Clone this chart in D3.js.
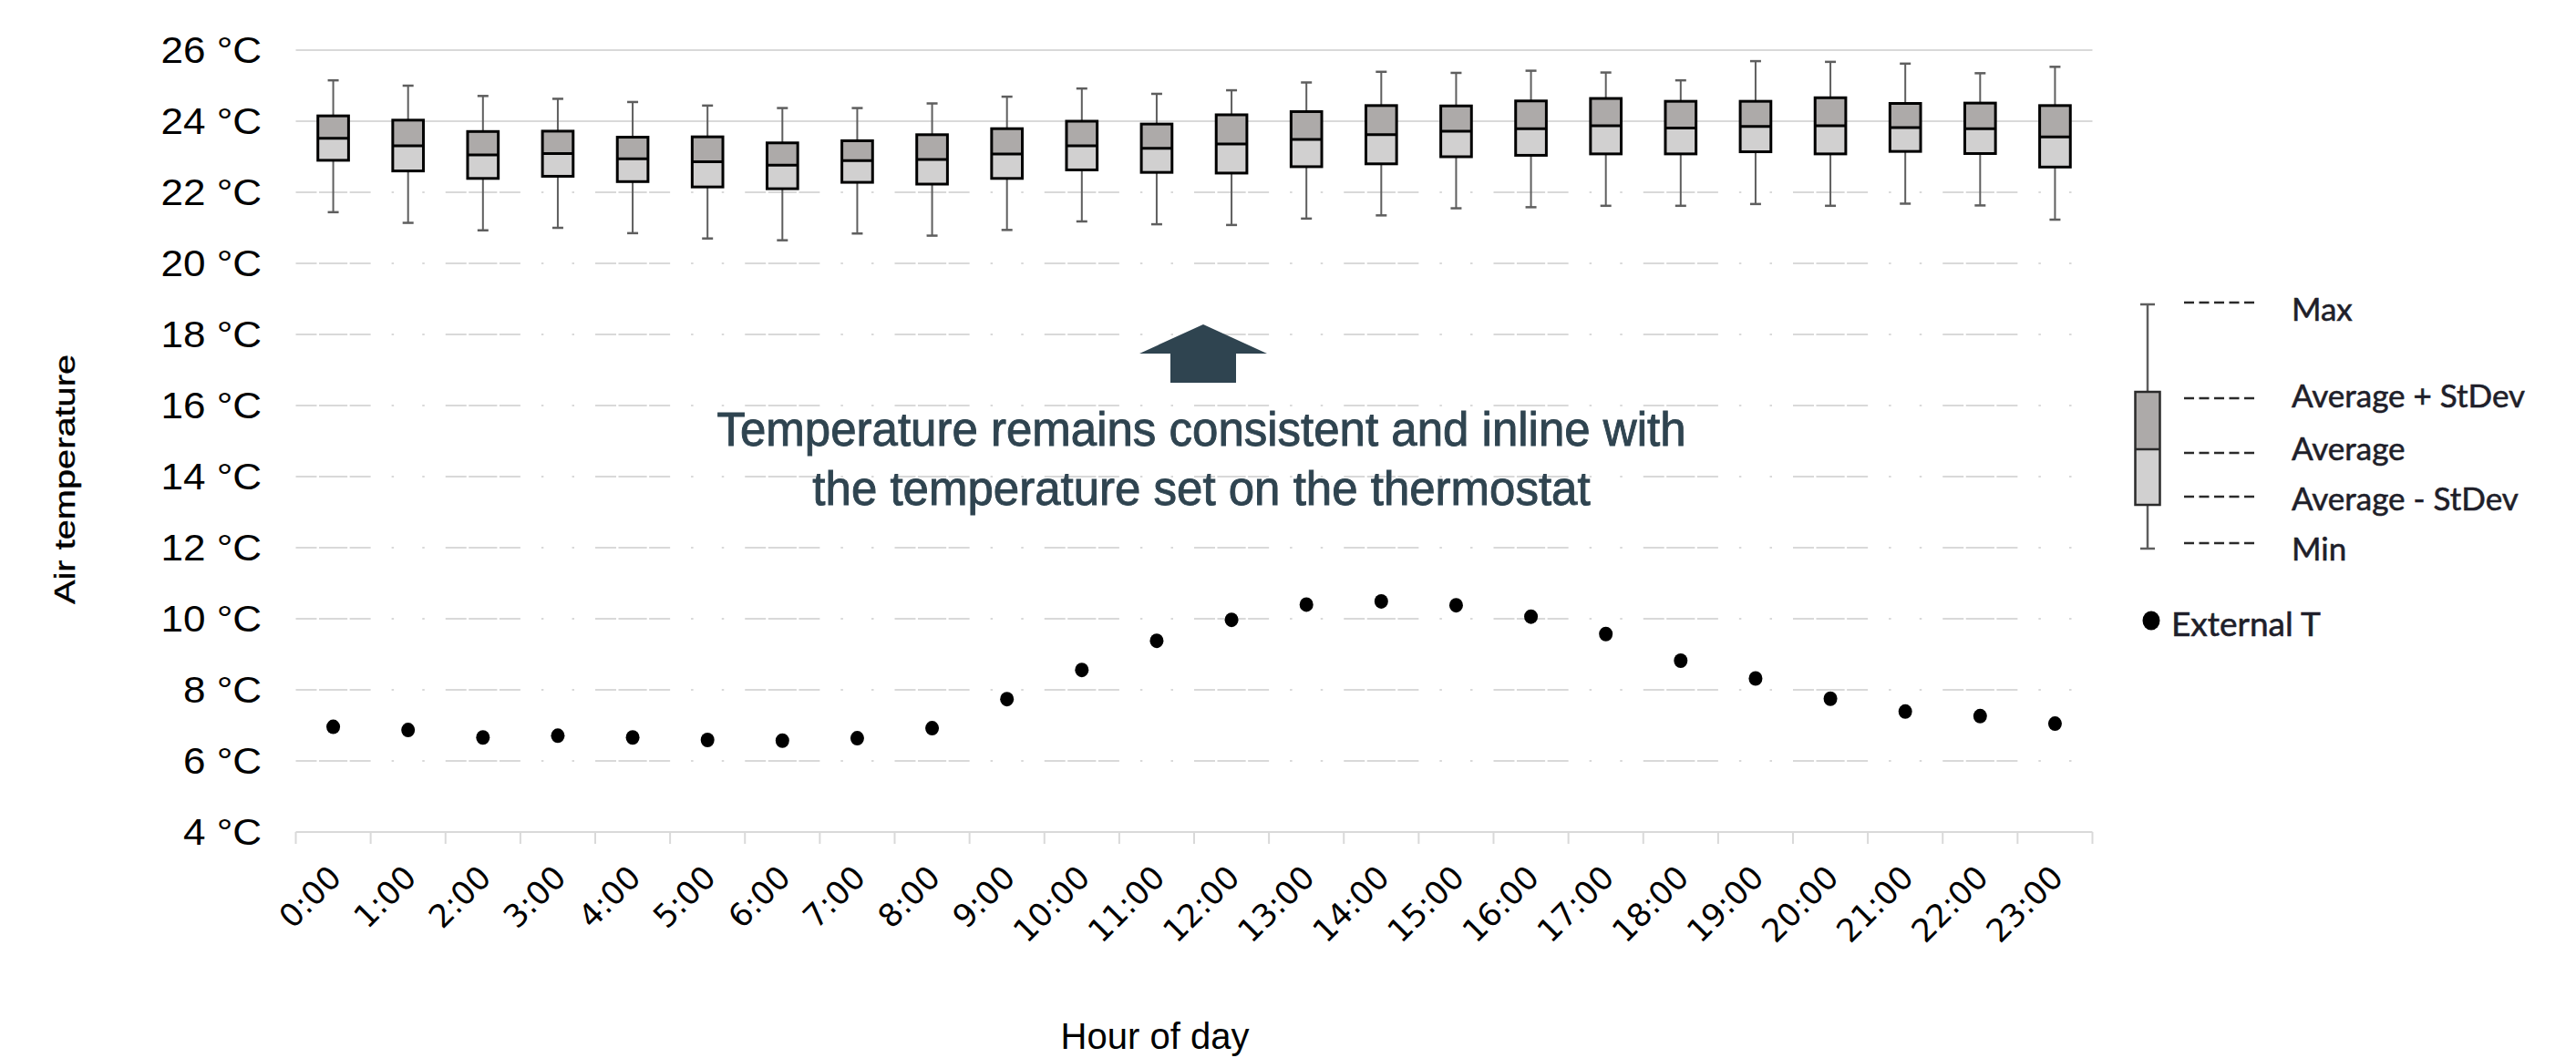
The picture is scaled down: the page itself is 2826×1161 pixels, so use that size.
<!DOCTYPE html>
<html>
<head>
<meta charset="utf-8">
<script src="https://cdn.jsdelivr.net/npm/d3@7"></script>
<style>
  html, body { margin: 0; padding: 0; background: #ffffff; }
  svg { display: block; }
</style>
</head>
<body>
<script>
// ---------- DATA ----------
const hours = ["0:00","1:00","2:00","3:00","4:00","5:00","6:00","7:00","8:00","9:00","10:00","11:00",
               "12:00","13:00","14:00","15:00","16:00","17:00","18:00","19:00","20:00","21:00","22:00","23:00"];
const tMax      = [25.15,25.00,24.71,24.63,24.54,24.44,24.37,24.37,24.50,24.69,24.92,24.77,24.87,25.09,25.39,25.36,25.42,25.37,25.15,25.69,25.67,25.62,25.35,25.53];
const tAvgPlus  = [24.15,24.03,23.71,23.72,23.55,23.56,23.39,23.45,23.62,23.79,24.00,23.92,24.18,24.27,24.44,24.43,24.57,24.64,24.56,24.56,24.66,24.50,24.51,24.44];
const tAvg      = [23.52,23.31,23.05,23.09,22.94,22.86,22.76,22.89,22.92,23.08,23.31,23.24,23.36,23.49,23.62,23.72,23.79,23.87,23.81,23.85,23.87,23.82,23.79,23.56];
const tAvgMinus = [22.90,22.60,22.39,22.45,22.30,22.15,22.10,22.28,22.23,22.39,22.63,22.56,22.54,22.72,22.80,23.00,23.04,23.08,23.08,23.14,23.08,23.15,23.09,22.71];
const tMin      = [21.44,21.14,20.93,21.00,20.85,20.70,20.65,20.84,20.78,20.94,21.18,21.10,21.08,21.26,21.35,21.55,21.58,21.62,21.62,21.67,21.62,21.68,21.63,21.23];
const extT      = [6.96,6.87,6.66,6.71,6.66,6.59,6.57,6.64,6.92,7.74,8.56,9.38,9.97,10.40,10.49,10.38,10.06,9.57,8.82,8.32,7.75,7.39,7.26,7.05];
const yTicks    = [4,6,8,10,12,14,16,18,20,22,24,26];
const legendLabels = ["Max","Average + StDev","Average","Average - StDev","Min"];
const annotationLines = ["Temperature remains consistent and inline with","the temperature set on the thermostat"];

// ---------- LAYOUT ----------
const W = 2826, H = 1161;
const svg = d3.select("body").append("svg").attr("width", W).attr("height", H);

const x = d3.scaleBand().domain(hours).range([324.5, 2295.5]).paddingInner(0).paddingOuter(0);
const y = d3.scaleLinear().domain([4, 26]).range([913, 55]);

const C_UP = "#adaaa9", C_LO = "#d1d0d0", C_GRID = "#d9d9d9", C_WH = "#5e5e5e", C_NOTE = "#2f4450";

// gridlines (lower ones show small gaps at box edge columns, like the reference)
const bw = x.bandwidth();
const gridG = svg.append("g");
yTicks.filter(d => d > 4).forEach(d => {
  const l = gridG.append("line")
    .attr("x1", x.range()[0]).attr("x2", x.range()[1])
    .attr("y1", y(d)).attr("y2", y(d))
    .attr("stroke", C_GRID).attr("stroke-width", 2);
  if (d <= 22) {
    const g = 2.5;
    const a = bw / 2 - bw * 0.205 - g / 2;
    const b = bw * 0.41 - g;
    l.attr("stroke-dasharray", [a, g, b, g, bw - a - b - 2 * g].join(","));
  }
});

// x axis (baseline + ticks on band boundaries)
const xg = svg.append("g").attr("transform", `translate(0,${y(4)})`);
xg.append("line").attr("x1", x.range()[0]).attr("x2", x.range()[1]).attr("y1", 0).attr("y2", 0)
  .attr("stroke", C_GRID).attr("stroke-width", 2);
xg.selectAll("line.tk").data(hours.map(h => x(h)).concat([x.range()[1]])).join("line")
  .attr("class", "tk")
  .attr("x1", d => d).attr("x2", d => d).attr("y1", 0).attr("y2", 13)
  .attr("stroke", C_GRID).attr("stroke-width", 2);

// x labels rotated
svg.append("g").selectAll("text").data(hours).join("text")
  .attr("transform", d => `translate(${x(d) + bw / 2 + 11},965) rotate(-45)`)
  .attr("text-anchor", "end")
  .attr("font-family", "DejaVu Sans")
  .attr("font-size", 35)
  .attr("fill", "#000")
  .text(d => d);

// y labels (slightly wide, as in the reference)
svg.append("g").selectAll("text").data(yTicks).join("text")
  .attr("transform", d => `translate(287,${y(d)}) scale(1.1,1)`)
  .attr("dy", "0.35em")
  .attr("text-anchor", "end")
  .attr("font-family", "Liberation Sans, Arial, sans-serif")
  .attr("font-size", 40)
  .attr("fill", "#000")
  .text(d => `${d} °C`);

// axis titles
svg.append("text")
  .attr("transform", "translate(82,526) rotate(-90)")
  .attr("text-anchor", "middle")
  .attr("font-family", "Liberation Sans, Arial, sans-serif")
  .attr("font-size", 31)
  .attr("textLength", 274).attr("lengthAdjust", "spacingAndGlyphs")
  .attr("fill", "#000").attr("stroke", "#000").attr("stroke-width", 0.4)
  .text("Air temperature");
svg.append("text")
  .attr("x", 1267).attr("y", 1151)
  .attr("text-anchor", "middle")
  .attr("font-family", "Liberation Sans, Arial, sans-serif")
  .attr("font-size", 40)
  .attr("fill", "#000")
  .text("Hour of day");

// ---------- BOXES ----------
const boxW = bw * 0.41, capW = 12;
const boxes = svg.append("g");
hours.forEach((h, i) => {
  const cx = x(h) + bw / 2;
  const g = boxes.append("g");
  g.append("line").attr("x1", cx).attr("x2", cx).attr("y1", y(tMax[i])).attr("y2", y(tAvgPlus[i]))
    .attr("stroke", C_WH).attr("stroke-width", 2);
  g.append("line").attr("x1", cx).attr("x2", cx).attr("y1", y(tAvgMinus[i])).attr("y2", y(tMin[i]))
    .attr("stroke", C_WH).attr("stroke-width", 2);
  g.append("line").attr("x1", cx - capW / 2).attr("x2", cx + capW / 2).attr("y1", y(tMax[i])).attr("y2", y(tMax[i]))
    .attr("stroke", C_WH).attr("stroke-width", 2.5);
  g.append("line").attr("x1", cx - capW / 2).attr("x2", cx + capW / 2).attr("y1", y(tMin[i])).attr("y2", y(tMin[i]))
    .attr("stroke", C_WH).attr("stroke-width", 2.5);
  g.append("rect").attr("x", cx - boxW / 2).attr("width", boxW)
    .attr("y", y(tAvgPlus[i])).attr("height", y(tAvg[i]) - y(tAvgPlus[i])).attr("fill", C_UP);
  g.append("rect").attr("x", cx - boxW / 2).attr("width", boxW)
    .attr("y", y(tAvg[i])).attr("height", y(tAvgMinus[i]) - y(tAvg[i])).attr("fill", C_LO);
  g.append("rect").attr("x", cx - boxW / 2).attr("width", boxW)
    .attr("y", y(tAvgPlus[i])).attr("height", y(tAvgMinus[i]) - y(tAvgPlus[i]))
    .attr("fill", "none").attr("stroke", "#000").attr("stroke-width", 3);
  g.append("line").attr("x1", cx - boxW / 2).attr("x2", cx + boxW / 2).attr("y1", y(tAvg[i])).attr("y2", y(tAvg[i]))
    .attr("stroke", "#000").attr("stroke-width", 3);
});

// external temperature dots
svg.append("g").selectAll("ellipse").data(extT).join("ellipse")
  .attr("cx", (d, i) => x(hours[i]) + bw / 2)
  .attr("cy", d => y(d))
  .attr("rx", 7.5).attr("ry", 8)
  .attr("fill", "#000");

// ---------- ANNOTATION ----------
svg.append("path")
  .attr("d", "M1320,356 L1390,388 L1356,388 L1356,420 L1284,420 L1284,388 L1250,388 Z")
  .attr("fill", C_NOTE);
svg.append("g").selectAll("text").data(annotationLines).join("text")
  .attr("x", 1318).attr("y", (d, i) => 489 + i * 65)
  .attr("text-anchor", "middle")
  .attr("font-family", "Liberation Sans, Arial, sans-serif")
  .attr("font-size", 51)
  .attr("fill", C_NOTE).attr("stroke", C_NOTE).attr("stroke-width", 0.9)
  .text(d => d);

// ---------- LEGEND ----------
const lg = svg.append("g");
const lcx = 2356;
lg.append("line").attr("x1", lcx).attr("x2", lcx).attr("y1", 334).attr("y2", 430).attr("stroke", C_WH).attr("stroke-width", 2.5);
lg.append("line").attr("x1", lcx).attr("x2", lcx).attr("y1", 554).attr("y2", 602).attr("stroke", C_WH).attr("stroke-width", 2.5);
lg.append("line").attr("x1", lcx - 8).attr("x2", lcx + 8).attr("y1", 334).attr("y2", 334).attr("stroke", C_WH).attr("stroke-width", 2.5);
lg.append("line").attr("x1", lcx - 8).attr("x2", lcx + 8).attr("y1", 602).attr("y2", 602).attr("stroke", C_WH).attr("stroke-width", 2.5);
lg.append("rect").attr("x", lcx - 13.5).attr("width", 27).attr("y", 430).attr("height", 63).attr("fill", C_UP);
lg.append("rect").attr("x", lcx - 13.5).attr("width", 27).attr("y", 493).attr("height", 61).attr("fill", C_LO);
lg.append("rect").attr("x", lcx - 13.5).attr("width", 27).attr("y", 430).attr("height", 124)
  .attr("fill", "none").attr("stroke", "#2a2a2a").attr("stroke-width", 2.5);
lg.append("line").attr("x1", lcx - 13.5).attr("x2", lcx + 13.5).attr("y1", 493).attr("y2", 493).attr("stroke", "#2a2a2a").attr("stroke-width", 2.5);

const dashY = [332, 437, 497, 545, 596];
const textY = [352, 447, 505, 560, 615];
legendLabels.forEach((t, i) => {
  lg.append("line").attr("x1", 2396).attr("x2", 2476).attr("y1", dashY[i]).attr("y2", dashY[i])
    .attr("stroke", "#2a2a2a").attr("stroke-width", 2.5).attr("stroke-dasharray", "11,5.5");
  lg.append("text").attr("x", 2514).attr("y", textY[i])
    .attr("font-family", "Lato, sans-serif").attr("font-size", 35)
    .attr("fill", "#1f1f2a").attr("stroke", "#1f1f2a").attr("stroke-width", 0.6).text(t);
});
lg.append("ellipse").attr("cx", 2360).attr("cy", 681).attr("rx", 9.5).attr("ry", 10.5).attr("fill", "#000");
lg.append("text").attr("x", 2382).attr("y", 698)
  .attr("font-family", "Lato, sans-serif").attr("font-size", 37)
  .attr("fill", "#1f1f2a").attr("stroke", "#1f1f2a").attr("stroke-width", 0.6).text("External T");
</script>
</body>
</html>
